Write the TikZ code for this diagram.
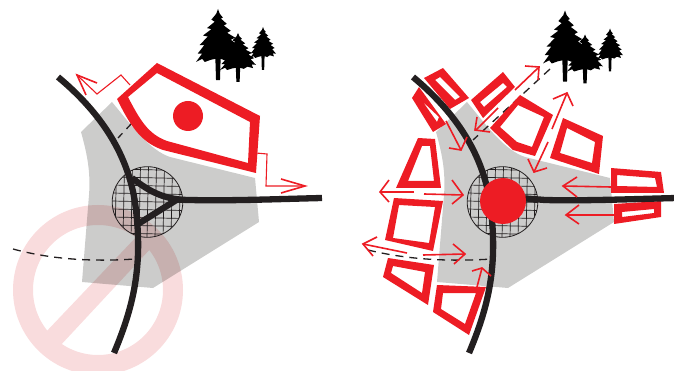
\documentclass[tikz,border=0pt]{standalone}
\usetikzlibrary{calc}
\definecolor{rd}{HTML}{ED1C24}
\definecolor{gy}{HTML}{CCCCCB}
\definecolor{bk}{HTML}{231F20}
\definecolor{pk}{HTML}{F9DCDD}
\tikzset{
  road/.style={draw=bk,line width=6.3pt,line cap=butt,line join=round},
  dash line/.style={draw=bk,line width=1.3pt,dash pattern=on 8pt off 6pt},
  wire/.style={draw=rd,line width=1.1pt,line join=miter},
  redline/.style={draw=rd,line width=1.6pt,line join=miter},
  house/.style={fill=rd,even odd rule},
  ground/.style={fill=gy},
}
\newcommand{\fir}[5]{% x y halfwidth height trunkfactor
  \begin{scope}[shift={(#1,#2)},x=#3pt,y=-#4pt]
  \fill[black] (0,0)--(.08,.09)--(.22,.16)--(.13,.18)--(.40,.28)--(.26,.31)--(.58,.41)--(.42,.45)--(.78,.54)--(.58,.58)--(.90,.68)--(.70,.71)--(1,.86)--(.76,.85)--(.84,.95)--(.52,.91)--(.32,.97)--(.12,.94)--(.09,#5)--(-.09,#5)--(-.12,.94)--(-.34,.96)--(-.6,1)--(-.72,.94)--(-1,1)--(-.72,.84)--(-.92,.84)--(-.62,.68)--(-.84,.68)--(-.46,.52)--(-.68,.50)--(-.30,.38)--(-.50,.36)--(-.15,.24)--(-.30,.20)--(-.08,.09)--cycle;
  \end{scope}}
\newcommand{\grove}[2]{%
  \begin{scope}[shift={(#1,#2)}]
  \fir{218}{9}{22}{53}{1.34}
  \fir{238}{33}{18}{37}{1.32}
  \fir{263}{27}{13}{31}{1.38}
  \end{scope}}
\newcommand{\hatched}[2]{%
  \begin{scope}
  \clip (#1,#2) circle[radius=35.3];
  \foreach \d in {-32,-24,-16,-8,0,8,16,24,32}{
    \draw[bk,line width=.7pt] (#1+\d+1,#2-36)--(#1+\d-.5,#2+36);
    \draw[bk,line width=.7pt] (#1-36,#2+\d-1)--(#1+36,#2+\d+.5);
  }
  \end{scope}
  \draw[bk,line width=.8pt] (#1,#2) circle[radius=35.3];}
\newcommand{\grnd}{(112,102)--(81,132) .. controls (86,150) and (91,170) .. (89,195)--(82,282)--(153,288)--(259,222)--(255,178)--(170,157) .. controls (150,150) and (135,130) .. (112,102)--cycle}
\begin{document}
\begin{tikzpicture}[x=1pt,y=-1pt]
\useasboundingbox (0,0) rectangle (674,371);
% ---------- left panel
\path[ground] \grnd;
\begin{scope}[blend mode=multiply]
\fill[pk] (183,290) arc[start angle=0,end angle=360,radius=85]
  (163,290) arc[start angle=0,end angle=-360,radius=65]
  (140,233)--(153,246)--(59,347)--(44,334)--cycle;
\end{scope}
\hatched{147.5}{202}
\draw[dash line] (13,249) .. controls (50,259) and (90,262) .. (135,259);
\draw[dash line] (132,123)--(118,138);
\path[road] (58,77) .. controls (100,112) and (130,155) .. (136,210) .. controls (143,270) and (132,310) .. (114,353);
\path[road] (132,178) .. controls (150,192) and (165,200) .. (190,200) .. controls (230,201) and (280,199) .. (322,198);
\path[road] (138,224) -- (178,199);
\path[house] (157,63)--(260,116)--(256,173)--(163,150) .. controls (140,142) and (130,125) .. (117,99)--cycle
  (157,73)--(250,122)--(248,163)--(167,141) .. controls (148,134) and (140,120) .. (128,97)--cycle;
\fill[rd] (188,116) circle[radius=15];
\draw[wire] (130,85)--(121,75)--(97,94)--(77,75);
\draw[redline] (97,83)--(77,75)--(86,95);
\draw[wire] (256,153)--(267,154)--(266,186)--(304,186);
\draw[redline] (281,179)--(305,186)--(281,193);
\grove{0}{0}
% ---------- right panel
\begin{scope}[xshift=355pt]
\path[ground] \grnd;
\end{scope}
\hatched{502.5}{202}
\begin{scope}[xshift=355pt]
\draw[dash line] (13,250) .. controls (50,259) and (90,262) .. (137,259);
\end{scope}
\draw[dash line] (550,69)--(473,140);
% houses
\path[house] (443,68)--(469,98)--(450,109)--(424,78)--cycle (440,77)--(460,97)--(455,100)--(435,80)--cycle;
\path[house] (419,87)--(412,98)--(433,132)--(446,124)--cycle (423,102)--(439,117)--(437,122)--cycle;
\path[house] (503,72)--(515,87)--(483,118)--(471,100)--cycle (503,83)--(507,87)--(484,107)--(480,102)--cycle;
\path[house] (520,95)--(553,115)--(535,156)--(513,150)--(490,128)--cycle (518,105)--(544,117)--(532,147)--(517,142)--(500,127)--cycle;
\path[house] (563,118)--(603,136)--(599,174)--(550,158)--cycle (567,128)--(595,142)--(592,163)--(560,153)--cycle;
\path[house] (611,168)--(661,172)--(664,193)--(611,193)--cycle (617,175)--(655,178)--(657,187)--(617,186)--cycle;
\path[house] (614,204)--(661,201)--(661,217)--(614,224)--cycle (622,212)--(654,209)--(654,213)--(622,217)--cycle;
\path[house] (418,138)--(435,139)--(441,188)--(396,188)--cycle (422,146)--(430,146)--(434,181)--(408,181)--cycle;
\path[house] (394,198)--(443,201)--(433,251)--(385,240)--cycle (399,205)--(435,207)--(429,243)--(393,238)--cycle;
\path[house] (388,258)--(434,265)--(428,305)--(383,277)--cycle (393,266)--(425,272)--(422,293)--(391,273)--cycle;
\path[house] (437,285)--(486,287)--(469,335)--(433,312)--cycle (443,293)--(476,293)--(465,324)--(441,309)--cycle;
% roads
\begin{scope}[xshift=355pt]
\path[road] (58,77) .. controls (100,112) and (130,155) .. (136,210) .. controls (143,270) and (132,310) .. (114,353);
\path[road] (165,198) -- (190,200) .. controls (230,201) and (280,199) .. (322,198);
\end{scope}
\fill[rd] (503,201) circle[radius=23];
% arrows
\draw[redline] (515,90)--(538,68); \draw[redline] (525,66)--(539,67)--(538,80);
\draw[redline] (498,108)--(476,130); \draw[redline] (477,117)--(475,130)--(490,132);
\draw[redline] (534,172)--(548,142); \draw[redline] (528,159)--(534,172)--(547,168);
\draw[redline] (552,129)--(567,93); \draw[redline] (553,99)--(567,93)--(573,106);
\draw[redline] (446,121)--(461,150); \draw[redline] (449,148)--(461,150)--(467,137);
\draw[redline] (414,192)--(380,192); \draw[redline] (389,180)--(380,192)--(389,202);
\draw[redline] (424,194)--(463,195); \draw[redline] (452,180)--(463,195)--(452,204);
\draw[redline] (407,253)--(363,244); \draw[redline] (377,237)--(363,244)--(373,256);
\draw[redline] (423,255)--(465,254); \draw[redline] (453,244)--(465,254)--(454,264);
\draw[redline] (611,187)--(563,186); \draw[redline] (577,177)--(563,186)--(577,197);
\draw[redline] (614,215)--(566,215); \draw[redline] (579,205)--(566,215)--(579,224);
\draw[redline] (477,287)--(482,268); \draw[redline] (472,271)--(482,268)--(491,276);
\grove{347}{1.5}
\end{tikzpicture}
\end{document}
